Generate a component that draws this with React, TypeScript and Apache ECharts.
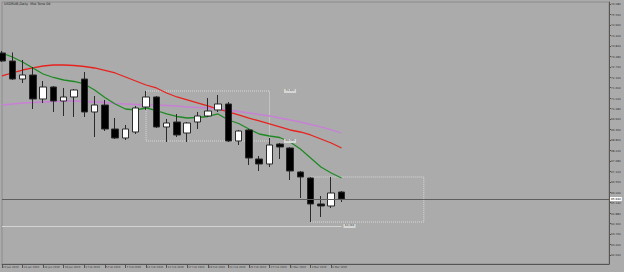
import React, { useEffect, useRef } from "react";
import * as echarts from "echarts";

const dates = ["22 Jan 2020", "23 Jan 2020", "24 Jan 2020", "27 Jan 2020", "28 Jan 2020", "29 Jan 2020", "30 Jan 2020", "31 Jan 2020", "3 Feb 2020", "4 Feb 2020", "5 Feb 2020", "6 Feb 2020", "7 Feb 2020", "10 Feb 2020", "11 Feb 2020", "12 Feb 2020", "13 Feb 2020", "14 Feb 2020", "17 Feb 2020", "18 Feb 2020", "19 Feb 2020", "20 Feb 2020", "21 Feb 2020", "24 Feb 2020", "25 Feb 2020", "26 Feb 2020", "27 Feb 2020", "28 Feb 2020", "2 Mar 2020", "3 Mar 2020", "4 Mar 2020", "5 Mar 2020", "6 Mar 2020", "9 Mar 2020"];

// [open, close, low, high]
const candles = [
  [73.457, 73.028, 72.975, 73.564],
  [73.028, 72.064, 72.011, 73.484],
  [72.064, 72.279, 71.850, 73.082],
  [72.279, 70.994, 70.458, 72.707],
  [70.994, 71.636, 70.780, 71.957],
  [71.636, 70.887, 70.298, 71.690],
  [70.887, 71.101, 70.084, 71.583],
  [71.101, 71.476, 70.030, 71.529],
  [72.064, 70.298, 70.030, 72.439],
  [70.298, 70.672, 68.959, 71.154],
  [70.672, 69.388, 69.280, 70.940],
  [69.388, 68.906, 68.852, 69.976],
  [68.906, 69.388, 68.798, 69.602],
  [69.227, 70.512, 69.120, 70.619],
  [70.565, 71.101, 70.405, 71.422],
  [71.101, 69.495, 69.441, 71.154],
  [69.495, 69.709, 68.691, 69.923],
  [69.762, 69.066, 68.959, 70.191],
  [69.173, 69.709, 68.691, 69.762],
  [69.762, 70.084, 69.388, 70.298],
  [70.084, 70.351, 70.030, 71.047],
  [70.405, 70.726, 70.298, 71.208],
  [70.726, 68.745, 68.691, 70.833],
  [68.745, 69.280, 68.531, 69.334],
  [69.334, 67.835, 67.460, 69.388],
  [67.781, 67.514, 67.139, 67.942],
  [67.514, 68.531, 67.353, 68.906],
  [68.584, 68.424, 67.781, 68.638],
  [68.370, 67.139, 66.657, 68.424],
  [67.085, 66.818, 65.693, 67.139],
  [66.764, 65.372, 64.408, 66.818],
  [65.372, 65.265, 64.676, 65.800],
  [65.265, 65.961, 65.158, 66.818],
  [66.014, 65.640, 65.479, 66.068],
];

const maFast = [73.457, 73.243, 72.975, 72.654, 72.332, 72.145, 72.011, 71.931, 71.797, 71.476, 71.074, 70.726, 70.458, 70.405, 70.512, 70.378, 70.191, 70.057, 69.976, 70.003, 70.057, 70.191, 69.869, 69.682, 69.388, 69.120, 69.013, 68.932, 68.691, 68.317, 67.835, 67.353, 67.032, 66.764];
const maMid = [72.225, 72.386, 72.546, 72.654, 72.761, 72.814, 72.814, 72.787, 72.734, 72.654, 72.520, 72.386, 72.172, 71.957, 71.743, 71.583, 71.315, 71.101, 70.940, 70.780, 70.619, 70.458, 70.298, 70.137, 69.976, 69.816, 69.655, 69.495, 69.334, 69.227, 69.066, 68.852, 68.638, 68.370];
const maSlow = [70.672, 70.726, 70.780, 70.806, 70.833, 70.860, 70.887, 70.887, 70.860, 70.833, 70.806, 70.753, 70.726, 70.699, 70.672, 70.672, 70.646, 70.619, 70.565, 70.539, 70.512, 70.458, 70.405, 70.325, 70.244, 70.164, 70.084, 69.976, 69.869, 69.762, 69.628, 69.495, 69.334, 69.173];

const yTicks = [76.08, 75.52, 74.96, 74.4, 73.84, 73.28, 72.72, 72.16, 71.6, 71.04, 70.48, 69.92, 69.36, 68.8, 68.24, 67.68, 67.12, 66.56, 66.0, 65.44, 64.88, 64.32, 63.76, 63.2, 62.64];

const lastPrice = 65.64;
const levelLine = 64.194;
// boxes: [startIndex, endIndex, top, bottom]
const box1 = [14, 26, 71.422, 68.745];
const box2 = [30, 41, 66.818, 64.408];

const title = "USDRUB,Daily  Mid Tone 04";
const FUTURE_SLOTS = 26;

export default function App() {
  const ref = useRef<HTMLDivElement>(null);
  useEffect(() => {
    if (!ref.current) return;
    const chart = echarts.init(ref.current, undefined, { renderer: "svg" });
    const categories = [...dates, ...Array.from({ length: FUTURE_SLOTS }, (_, i) => `+${i + 1}`)];
    const showIdx = (i: number) => i % 2 === 0 && i < dates.length - 1;
    const font = "DejaVu Sans";
    const boxLabel = (txt: string) => ({
      show: true,
      formatter: txt,
      color: "#333",
      fontSize: 2.6,
      fontFamily: font,
      backgroundColor: "#d6d6d6",
      padding: [0.5, 1.5],
      position: "inside",
    });
    chart.setOption({
      animation: false,
      backgroundColor: "#ababab",
      grid: { left: 2, right: 15, top: 2, bottom: 8, show: true, borderColor: "#8c8c8c", borderWidth: 1, backgroundColor: "transparent" },
      graphic: [
        { type: "text", left: 4, top: 2, style: { text: title, fontSize: 3.4, fontFamily: font, fill: "#222" } },
      ],
      xAxis: {
        type: "category",
        data: categories,
        boundaryGap: false,
        axisLine: { lineStyle: { color: "#555", width: 1 } },
        axisTick: { show: true, interval: (i: number) => showIdx(i), length: 4, lineStyle: { color: "#555" } },
        axisLabel: {
          interval: (i: number) => showIdx(i),
          align: "left",
          margin: 2,
          fontSize: 2.6,
          fontFamily: font,
          color: "#333",
          padding: [0, 0, 0, 1],
        },
        splitLine: { show: false },
      },
      yAxis: {
        type: "value",
        position: "right",
        min: 62.159,
        max: 76.187,
        scale: true,
        axisLine: { show: true, lineStyle: { color: "#555", width: 1 } },
        axisTick: { show: true, customValues: yTicks, length: 2, lineStyle: { color: "#555" } },
        axisLabel: {
          customValues: yTicks,
          formatter: (v: number) => v.toFixed(3),
          margin: 2,
          fontSize: 2.8,
          fontFamily: font,
          color: "#333",
        },
        splitLine: { show: false },
      },
      series: [
        {
          type: "line",
          data: maSlow,
          symbol: "none",
          silent: true,
          lineStyle: { color: "#c87fd6", width: 1.3 },
          z: 2,
        },
        {
          type: "line",
          data: maMid,
          symbol: "none",
          silent: true,
          lineStyle: { color: "#e8221e", width: 1.3 },
          z: 2,
        },
        {
          type: "line",
          data: maFast,
          symbol: "none",
          silent: true,
          lineStyle: { color: "#1f8a24", width: 1.3 },
          z: 2,
        },
        {
          type: "candlestick",
          data: candles,
          barWidth: 7,
          silent: true,
          z: 3,
          itemStyle: { color: "#ffffff", color0: "#000000", borderColor: "#2a2a2a", borderColor0: "#2a2a2a", borderWidth: 1 },
          markArea: {
            silent: true,
            itemStyle: { color: "rgba(0,0,0,0)", borderColor: "#dadada", borderWidth: 1, borderType: "dotted" },
            data: [
              [{ coord: [box1[0], box1[2]] }, { coord: [box1[1], box1[3]] }],
              [{ coord: [box2[0], box2[2]] }, { coord: [box2[1], box2[3]] }],
            ],
          },
          markLine: {
            silent: true,
            symbol: ["none", "none"],
            data: [
              {
                yAxis: lastPrice,
                lineStyle: { color: "#5e5e5e", width: 1, type: "solid" },
                label: {
                  show: true,
                  position: "end",
                  formatter: lastPrice.toFixed(3),
                  distance: 1,
                  fontSize: 2.8,
                  fontFamily: font,
                  color: "#000",
                  backgroundColor: "#ffffff",
                  padding: [0.5, 1],
                },
              },
              [
                { coord: [0, levelLine], lineStyle: { color: "#d4d4d4", width: 1, type: "solid" }, label: { show: true, position: "end", formatter: levelLine.toFixed(3), distance: 2, fontSize: 2.6, fontFamily: font, color: "#333", backgroundColor: "#d6d6d6", padding: [0.5, 1.5] } },
                { coord: [dates.length - 1, levelLine] },
              ],
            ],
          },
          markPoint: {
            silent: true,
            symbol: "rect",
            symbolSize: [1, 1],
            itemStyle: { color: "rgba(0,0,0,0)" },
            data: [
              { coord: [28, box1[2]], label: boxLabel(box1[2].toFixed(3)) },
              { coord: [28, box1[3]], label: boxLabel(box1[3].toFixed(3)) },
            ],
          },
        },
      ],
    });
    return () => chart.dispose();
  }, []);
  return <div ref={ref} style={{ position: "fixed", left: 0, top: 0, width: 624, height: 272 }} />;
}
